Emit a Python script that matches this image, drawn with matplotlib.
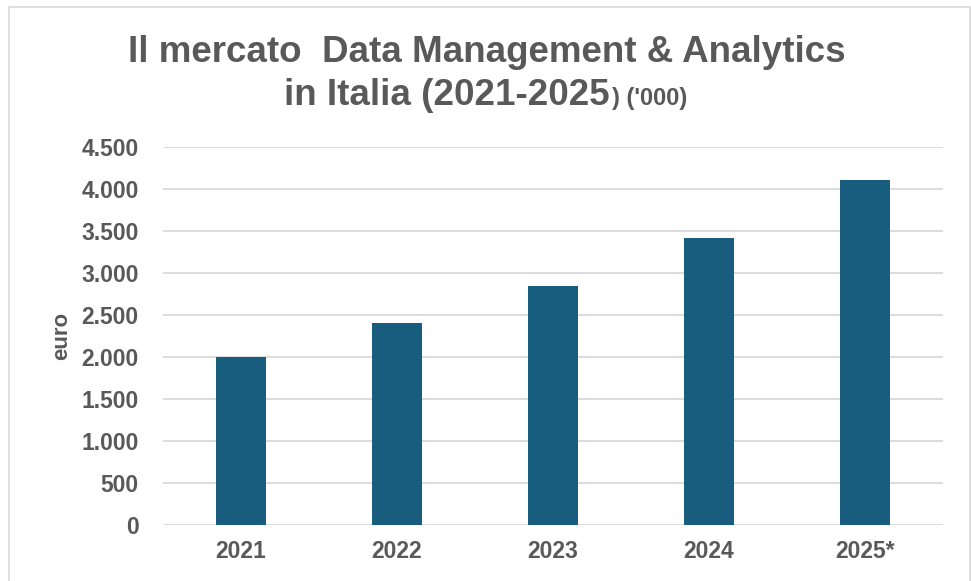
import matplotlib
matplotlib.use("Agg")
import matplotlib.pyplot as plt
from matplotlib.ticker import FuncFormatter, MultipleLocator
from matplotlib.patches import Rectangle

# data
years = ["2021", "2022", "2023", "2024", "2025*"]
values = [2000, 2405, 2845, 3420, 4105]

plt.rcParams['font.family'] = ['Liberation Sans', 'DejaVu Sans']
grey = "#595959"
bar_color = "#185c7e"

fig = plt.figure(figsize=(9.71, 5.81), dpi=100)
ax = fig.add_axes([163 / 971, 1 - 525 / 581, (943 - 163) / 971, (525 - 147) / 581])

ax.bar(range(len(years)), values, width=0.32, color=bar_color, zorder=3)

ax.set_xlim(-0.5, len(years) - 0.5)
ax.set_ylim(0, 4500)
ax.yaxis.set_major_locator(MultipleLocator(500))
ax.yaxis.set_major_formatter(FuncFormatter(lambda v, p: f"{v:,.0f}".replace(",", ".")))
ax.set_xticks(range(len(years)))
ax.set_xticklabels(years)

ax.grid(axis="y", color="#d9d9d9", linewidth=1.3, zorder=0)
for s in ax.spines.values():
    s.set_visible(False)
ax.tick_params(axis="both", length=0, labelsize=16.5, labelcolor=grey)
ax.tick_params(axis="y", pad=17.5)
ax.tick_params(axis="x", pad=11)
for lbl in ax.get_xticklabels() + ax.get_yticklabels():
    lbl.set_fontweight("bold")

ax.set_ylabel("euro", fontsize=16, fontweight="bold", color=grey)
ax.yaxis.set_label_coords(-0.117, 0.5)

# title, two lines, second with smaller tail
fig.text(487 / 971, 1 - 62 / 581, "Il mercato  Data Management & Analytics",
         ha="center", va="baseline", fontsize=26.5, fontweight="bold", color=grey)
fig.text(610 / 971, 1 - 105 / 581, "in Italia (2021-2025",
         ha="right", va="baseline", fontsize=26.5, fontweight="bold", color=grey)
fig.text(612 / 971, 1 - 105 / 581, ") ('000)",
         ha="left", va="baseline", fontsize=17, fontweight="bold", color=grey)

# light outer frame
fig.patches.append(Rectangle((9 / 971, -0.01), (970 - 9) / 971, 1 - 7 / 581 + 0.01,
                             transform=fig.transFigure, fill=False,
                             edgecolor="#d9d9d9", linewidth=1.2))

fig.savefig("out.png", dpi=100)
